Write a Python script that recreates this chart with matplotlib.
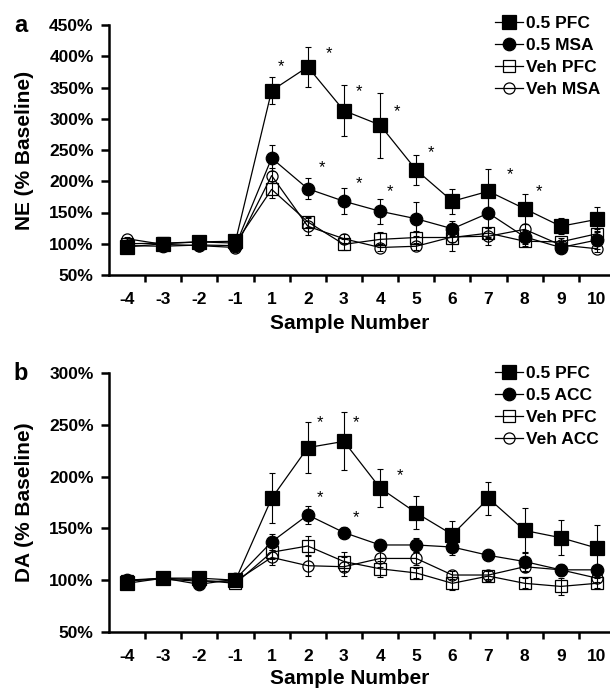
import numpy as np
import matplotlib
matplotlib.use("Agg")
import matplotlib.pyplot as plt

plt.rcParams['font.family'] = ['Liberation Sans', 'DejaVu Sans']
plt.rcParams['font.weight'] = 'bold'

samples = ['-4', '-3', '-2', '-1', '1', '2', '3', '4', '5', '6', '7', '8', '9', '10']

# panel a - NE
ne_pfc = [95, 100, 103, 104, 345, 383, 313, 290, 218, 168, 184, 156, 128, 139]
ne_pfc_err = [4, 4, 3, 3, 22, 32, 41, 52, 24, 20, 35, 24, 13, 20]
ne_msa = [97, 96, 98, 97, 237, 188, 168, 152, 140, 124, 149, 111, 94, 106]
ne_msa_err = [3, 3, 3, 3, 21, 17, 21, 20, 27, 12, 38, 11, 5, 14]
ne_veh_pfc = [100, 101, 103, 101, 187, 135, 99, 107, 110, 110, 117, 104, 103, 116]
ne_veh_pfc_err = [3, 3, 3, 3, 14, 8, 9, 12, 10, 22, 8, 7, 6, 8]
ne_veh_msa = [108, 99, 97, 94, 209, 128, 108, 94, 96, 111, 112, 123, 98, 92]
ne_veh_msa_err = [3, 3, 3, 3, 12, 14, 7, 6, 6, 8, 14, 8, 6, 5]
ne_star_x = [4.25, 5.59, 6.42, 7.48, 8.41, 5.38, 6.42, 7.27, 10.59, 11.41]
ne_star_y = [383, 405, 343, 312, 246, 221, 197, 184, 211, 184]

# panel b - DA
da_pfc = [97, 102, 102, 100, 179, 228, 234, 189, 165, 144, 179, 148, 141, 131]
da_pfc_err = [3, 3, 3, 3, 24, 25, 28, 18, 16, 13, 16, 22, 17, 22]
da_acc = [100, 102, 96, 101, 137, 163, 146, 134, 134, 132, 124, 118, 110, 110]
da_acc_err = [3, 3, 3, 3, 8, 9, 5, 4, 7, 8, 4, 9, 6, 5]
da_veh_pfc = [99, 102, 100, 97, 127, 133, 118, 111, 107, 97, 104, 97, 94, 97]
da_veh_pfc_err = [2, 2, 2, 2, 7, 10, 9, 8, 5, 6, 5, 5, 8, 5]
da_veh_acc = [100, 101, 99, 99, 122, 114, 113, 121, 121, 105, 105, 113, 110, 102]
da_veh_acc_err = [2, 2, 2, 2, 7, 10, 9, 8, 6, 4, 4, 5, 4, 4]
da_star_x = [5.34, 6.34, 7.54, 5.34, 6.34]
da_star_y = [252, 252, 201, 180, 160]

fig = plt.figure(figsize=(6.1, 6.9), dpi=100)
W, H = 610.0, 690.0
ax_a = fig.add_axes([109 / W, (H - 275) / H, 506 / W, 250 / H])
ax_b = fig.add_axes([109 / W, (H - 632) / H, 506 / W, 259 / H])

x = np.arange(len(samples))


def draw(ax, series, ylim, yticks, stars_x, stars_y, ylabel, letter, xlab_y, leg_y):
    for vals, err, marker, filled, ms, lab in series:
        ax.errorbar(x, vals, yerr=err, fmt='none', ecolor='black',
                    elinewidth=0.8, capsize=2.2, capthick=0.8, zorder=2)
        ax.plot(x, vals, color='black', lw=0.9, marker=marker, ms=ms,
                mfc='black' if filled else 'none', mec='black',
                mew=0.9, label=lab, zorder=3 if filled else 2.5)
    for sx, sy in zip(stars_x, stars_y):
        ax.text(sx, sy, '*', ha='center', va='center', fontsize=12,
                fontweight='normal')
    ax.set_xlim(-0.5, 13.5)
    ax.set_ylim(*ylim)
    ax.set_yticks(yticks)
    ax.set_yticklabels(['%d%%' % t for t in yticks])
    ax.set_xticks(x)
    ax.set_xticklabels(samples)
    ax.set_xticks(np.arange(0.5, 13.5, 1.0), minor=True)
    ax.tick_params(axis='x', which='major', length=0, pad=12, labelsize=12.5)
    ax.tick_params(axis='x', which='minor', length=5, width=1.8,
                   direction='out')
    ax.tick_params(axis='y', length=6, width=1.8, pad=5, labelsize=12.5)
    for s in ['top', 'right']:
        ax.spines[s].set_visible(False)
    for s in ['left', 'bottom']:
        ax.spines[s].set_linewidth(1.8)
    ax.set_ylabel(ylabel, fontsize=15, fontweight='bold')
    ax.yaxis.set_label_coords(-0.148, 0.5)
    ax.set_xlabel('Sample Number', fontsize=15, fontweight='bold')
    ax.xaxis.set_label_coords(0.475, xlab_y)
    ax.text(-0.175, 1.0, letter, transform=ax.transAxes, fontsize=17,
            fontweight='bold', ha='center', va='center')
    ax.legend(loc='upper left', bbox_to_anchor=(0.749, leg_y), frameon=False,
              fontsize=12.5, handlelength=1.6, handletextpad=0.2,
              labelspacing=0.39, borderaxespad=0)


draw(ax_a, [(ne_pfc, ne_pfc_err, 's', True, 9.5, '0.5 PFC'),
            (ne_msa, ne_msa_err, 'o', True, 9, '0.5 MSA'),
            (ne_veh_pfc, ne_veh_pfc_err, 's', False, 8, 'Veh PFC'),
            (ne_veh_msa, ne_veh_msa_err, 'o', False, 8, 'Veh MSA')],
     (50, 450), [50, 100, 150, 200, 250, 300, 350, 400, 450],
     ne_star_x, ne_star_y, 'NE (% Baseline)', 'a', -0.155, 1.064)

draw(ax_b, [(da_pfc, da_pfc_err, 's', True, 9.5, '0.5 PFC'),
            (da_acc, da_acc_err, 'o', True, 9, '0.5 ACC'),
            (da_veh_pfc, da_veh_pfc_err, 's', False, 8, 'Veh PFC'),
            (da_veh_acc, da_veh_acc_err, 'o', False, 8, 'Veh ACC')],
     (50, 300), [50, 100, 150, 200, 250, 300],
     da_star_x, da_star_y, 'DA (% Baseline)', 'b', -0.143, 1.055)

fig.savefig('out.png', dpi=100)
